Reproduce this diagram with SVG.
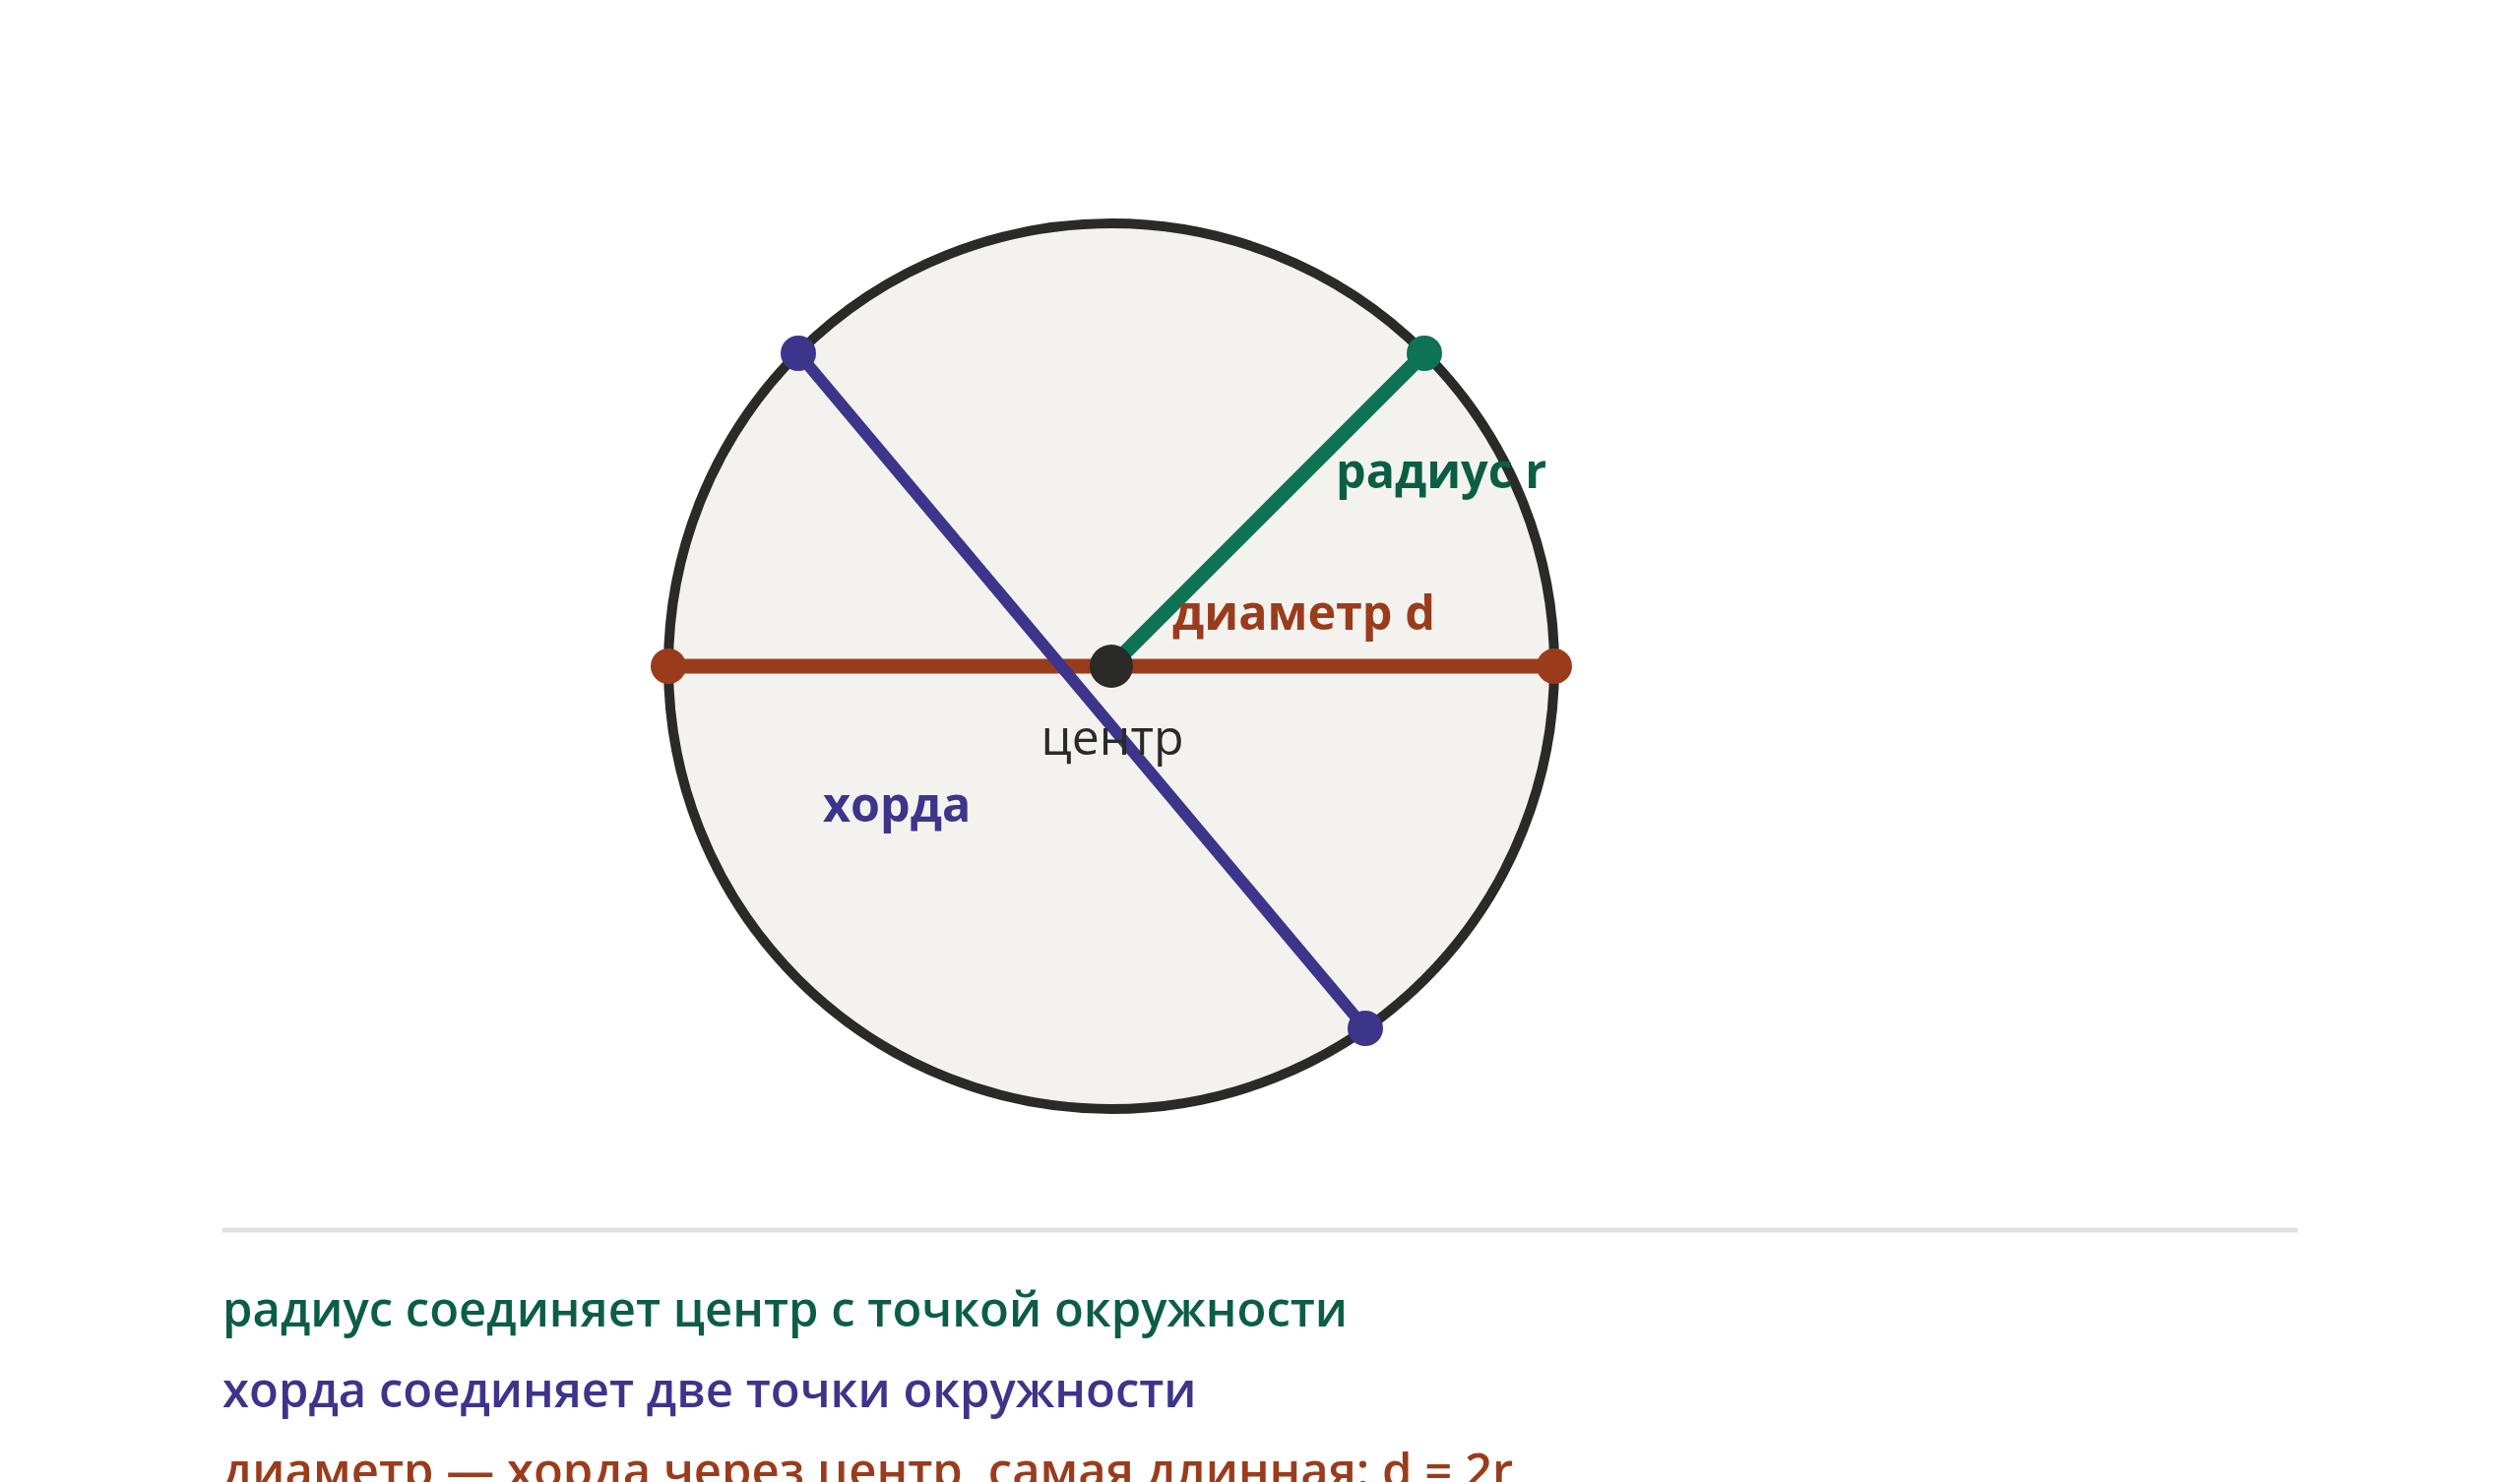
<svg xmlns="http://www.w3.org/2000/svg" width="2560" height="1506" viewBox="0 0 2560 1506">
<style>
.lbl{font-family:"Open Sans","Noto Sans",sans-serif;font-weight:700;font-size:48.5px}
.leg{font-family:"Open Sans","Noto Sans",sans-serif;font-weight:600;font-size:49px}
.green{fill:#0b5e45}
.blue{fill:#3d348b}
.red{fill:#9a3c1c}
</style>
<rect width="2560" height="1506" fill="#ffffff"/>
<g id="circle">
<circle cx="1129" cy="677" r="450" fill="#f3f2ee" stroke="#2a2a28" stroke-width="10"/>
</g>
<g id="connectors" stroke-linecap="round">
<line id="diameter" x1="679" y1="677" x2="1579" y2="677" stroke="#9a3c1c" stroke-width="15"/>
<line id="chord" x1="811" y1="359" x2="1387" y2="1045" stroke="#3d348b" stroke-width="12"/>
<line id="radius" x1="1129" y1="677" x2="1447" y2="359" stroke="#0e7355" stroke-width="15"/>
</g>
<g id="points">
<circle cx="679" cy="677" r="18" fill="#9a3c1c"/>
<circle cx="1579" cy="677" r="18" fill="#9a3c1c"/>
<circle cx="811" cy="359" r="18" fill="#3d348b"/>
<circle cx="1387" cy="1045" r="18" fill="#3d348b"/>
<circle cx="1447" cy="359" r="18" fill="#0e7355"/>
</g>
<g id="center">
<circle cx="1129" cy="677" r="22" fill="#2a2a28"/>
<text x="1130" y="767" text-anchor="middle" font-family="Open Sans, Noto Sans, sans-serif" font-size="50" fill="#2a2a28">центр</text>
</g>
<g id="label-radius"><text class="lbl green" x="1357" y="496">радиус r</text></g>
<g id="label-diameter"><text class="lbl red" x="1191" y="640">диаметр d</text></g>
<g id="label-chord"><text class="lbl blue" x="836" y="835">хорда</text></g>
<g id="legend">
<line x1="226" y1="1250" x2="2334" y2="1250" stroke="#e0e0de" stroke-width="5"/>
<text class="leg green" x="226" y="1348">радиус соединяет центр с точкой окружности</text>
<text class="leg blue" x="226" y="1430">хорда соединяет две точки окружности</text>
<text class="leg red" x="226" y="1512">диаметр — хорда через центр, самая длинная: d = 2r</text>
</g>
</svg>
